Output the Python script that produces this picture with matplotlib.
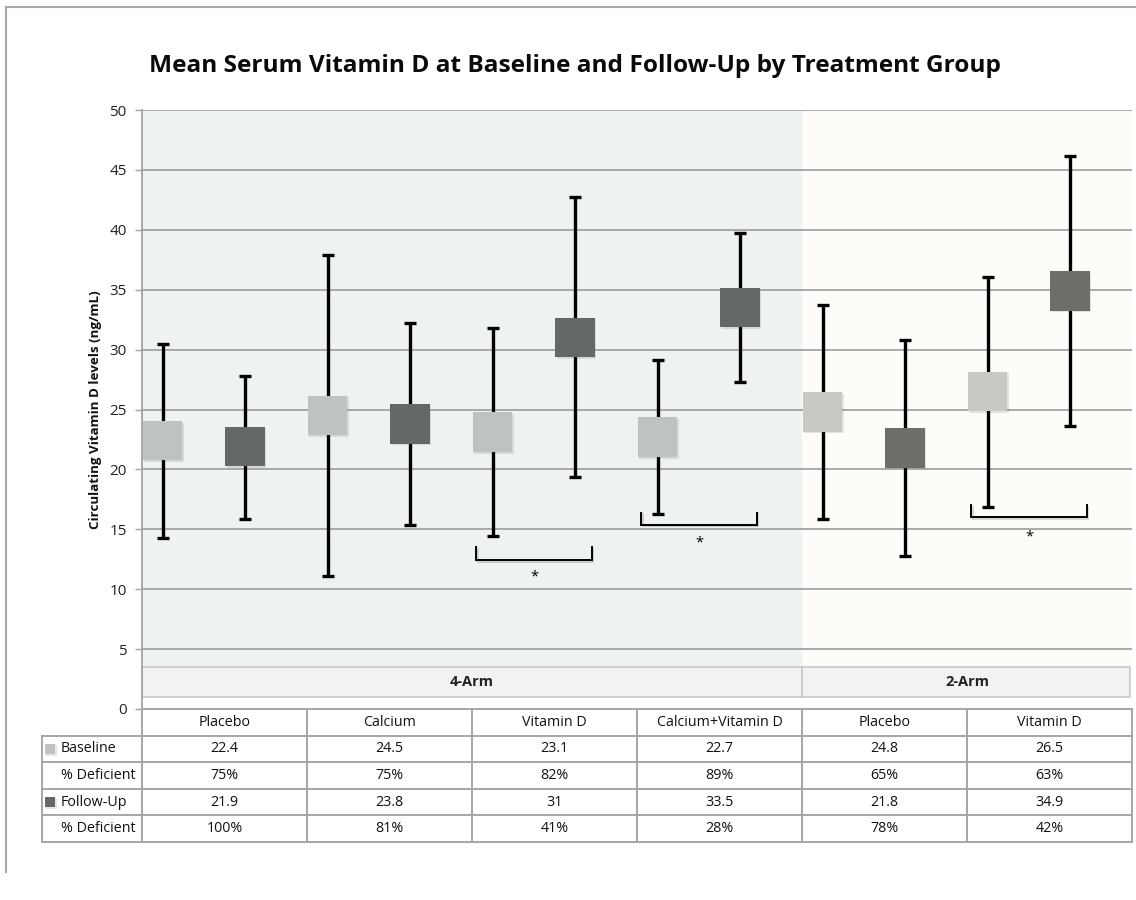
import matplotlib
matplotlib.use("Agg")
import matplotlib.pyplot as plt
import matplotlib.patheffects as pe
from matplotlib.patches import Rectangle
from matplotlib.lines import Line2D
import numpy as np

plt.rcParams['font.family'] = ['Open Sans', 'DejaVu Sans']

# ---------------- data ----------------
groups = ["Placebo", "Calcium", "Vitamin D", "Calcium+Vitamin D", "Placebo", "Vitamin D"]
arms = ["4-Arm", "2-Arm"]
arm_of_group = [0, 0, 0, 0, 1, 1]

baseline_mean = [22.4, 24.5, 23.1, 22.7, 24.8, 26.5]
baseline_low = [14.3, 11.1, 14.4, 16.3, 15.9, 16.9]
baseline_high = [30.5, 37.9, 31.8, 29.1, 33.7, 36.1]
baseline_def = ["75%", "75%", "82%", "89%", "65%", "63%"]

followup_mean = [21.9, 23.8, 31, 33.5, 21.8, 34.9]
followup_low = [15.9, 15.4, 19.4, 27.3, 12.8, 23.6]
followup_high = [27.8, 32.2, 42.7, 39.7, 30.8, 46.2]
followup_def = ["100%", "81%", "41%", "28%", "78%", "42%"]

# significance brackets (group index they belong to)
sig_groups = [2, 3, 5]
bracket_top = [13.5, 16.4, 17.0]
bracket_bottom = [12.4, 15.4, 16.0]
star_y = [11.0, 13.9, 14.4]

yticks = [0, 5, 10, 15, 20, 25, 30, 35, 40, 45, 50]
title = "Mean Serum Vitamin D at Baseline and Follow-Up by Treatment Group"
ylabel = "Circulating Vitamin D levels (ng/mL)"
row_labels = ["Baseline", "% Deficient", "Follow-Up", "% Deficient"]

# ---------------- style ----------------
W, H = 1136, 900
fig = plt.figure(figsize=(W / 100, H / 100), dpi=100)
fig.patch.set_facecolor("white")

ax_l, ax_r, ax_t, ax_b = 142, 1132, 110, 709
ax = fig.add_axes([ax_l / W, 1 - ax_b / H, (ax_r - ax_l) / W, (ax_b - ax_t) / H])
ax.set_xlim(-0.25, 11.75)
ax.set_ylim(0, 50)

grid_c = "#A3A3A3"
arm_bg = ["#EEF2F3", "#FDFCF8"]
base_c = ["#BEC2C3", "#C8C9C4"]
fu_c = ["#656869", "#6D6E69"]

ng = len(groups)
x_base = np.arange(ng) * 2
x_fu = np.arange(ng) * 2 + 1

# arm extents
arm_start = [-0.25, 7.75]
arm_end = [7.75, 11.75]
for a in range(2):
    ax.add_patch(Rectangle((arm_start[a], 3.5), arm_end[a] - arm_start[a], 50 - 3.5,
                           facecolor=arm_bg[a], edgecolor="none", zorder=0))
    ax.add_patch(Rectangle((arm_start[a], 1.0), arm_end[a] - arm_start[a] - (0.03 if a == 1 else 0), 2.5,
                           facecolor="#F2F2F2", edgecolor="#C8C8C8", lw=1.2, zorder=1))
    ax.text((arm_start[a] + arm_end[a]) / 2, 2.25, arms[a], ha="center", va="center",
            fontsize=10.5, fontweight="bold", color="#222222", zorder=2)

for y in yticks[1:]:
    ax.axhline(y, color=grid_c, lw=1.3, zorder=1)

# error bars
for xs, m, lo, hi in [(x_base, baseline_mean, baseline_low, baseline_high),
                      (x_fu, followup_mean, followup_low, followup_high)]:
    m = np.array(m); lo = np.array(lo); hi = np.array(hi)
    ax.errorbar(xs, m, yerr=[m - lo, hi - m], fmt="none", ecolor="black",
                elinewidth=2.4, capsize=4.5, capthick=2.4, zorder=3)

shadow = [pe.SimplePatchShadow(offset=(1.0, -1.2), alpha=0.15, shadow_rgbFace="#555555"), pe.Normal()]
for g in range(ng):
    a = arm_of_group[g]
    ax.plot([x_base[g]], [baseline_mean[g]], marker="s", ms=28.5, mfc=base_c[a], mec="none",
            ls="none", zorder=4, path_effects=shadow)
    ax.plot([x_fu[g]], [followup_mean[g]], marker="s", ms=28.5, mfc=fu_c[a], mec="none",
            ls="none", zorder=4, path_effects=shadow)

# significance brackets
for g, t, b, sy in zip(sig_groups, bracket_top, bracket_bottom, star_y):
    x0 = x_base[g] - 0.2
    x1 = x_fu[g] + 0.2
    ax.plot([x0, x0, x1, x1], [t, b, b, t], color="black", lw=1.4, zorder=3,
            solid_joinstyle="miter",
            path_effects=[pe.SimpleLineShadow(offset=(1, -1), alpha=0.15), pe.Normal()])
    ax.text((x0 + x1) / 2, sy, "*", ha="center", va="center", fontsize=10.5, color="black", zorder=3)

ax.set_yticks(yticks)
ax.set_yticklabels([str(v) for v in yticks], fontsize=11, color="#222222")
ax.set_xticks([])
ax.tick_params(axis="y", length=5, width=1, color=grid_c, pad=6)
for s in ["top", "right", "bottom"]:
    ax.spines[s].set_visible(False)
ax.spines["left"].set_color(grid_c)
ax.spines["left"].set_linewidth(1.3)

fig.text(575 / W, 1 - 66 / H, title, ha="center", va="center", fontsize=17.6,
         fontweight="bold", color="#0A0A0A")
fig.text(95 / W, 1 - 410 / H, ylabel, ha="center", va="center", rotation=90,
         fontsize=9.6, fontweight="bold", color="#111111")

# ---------------- table ----------------
t_l, t_r, t_t, t_b = 42, 1132, 709, 842
tab = fig.add_axes([t_l / W, 1 - t_b / H, (t_r - t_l) / W, (t_b - t_t) / H])
ppu = (ax_r - ax_l) / 12.0
left_x = -0.25 - (ax_l - t_l) / ppu
tab.set_xlim(left_x, 11.75)
tab.set_ylim(5, 0)
tab.axis("off")

lc = "#A6A6A6"
lw = 1.4
# horizontal lines
tab.plot([-0.25, 11.75], [0, 0], color=lc, lw=lw, clip_on=False)
for r in range(1, 6):
    tab.plot([left_x, 11.75], [r, r], color=lc, lw=lw, clip_on=False)
# vertical lines
tab.plot([left_x, left_x], [1, 5], color=lc, lw=lw, clip_on=False)
for c in range(ng + 1):
    xv = -0.25 + 2 * c
    tab.plot([xv, xv], [0, 5], color=lc, lw=lw, clip_on=False)

cell_fs = 10.3
for g in range(ng):
    cx = 2 * g + 0.75
    tab.text(cx, 0.5, groups[g], ha="center", va="center", fontsize=cell_fs, color="#111111")
    vals = [baseline_mean[g], baseline_def[g], followup_mean[g], followup_def[g]]
    for r, v in enumerate(vals):
        tab.text(cx, r + 1.5, str(v), ha="center", va="center", fontsize=cell_fs, color="#111111")

label_x = left_x + 19 / ppu
for r, lab in enumerate(row_labels):
    tab.text(label_x, r + 1.5, lab, ha="left", va="center", fontsize=cell_fs, color="#111111")

sq_x = left_x + 8 / ppu
tab.plot([sq_x], [1.5], marker="s", ms=7.5, mfc=base_c[0], mec="none", ls="none",
         path_effects=shadow, clip_on=False)
tab.plot([sq_x], [3.5], marker="s", ms=7.5, mfc=fu_c[0], mec="none", ls="none",
         path_effects=shadow, clip_on=False)

# outer frame
fig.add_artist(Line2D([6 / W, 6 / W], [1 - 7 / H, 1 - 872 / H], color="#A8A8A8", lw=1.5,
                      transform=fig.transFigure))
fig.add_artist(Line2D([6 / W, 1.0], [1 - 7 / H, 1 - 7 / H], color="#A8A8A8", lw=1.5,
                      transform=fig.transFigure))

fig.savefig("out.png", dpi=100, facecolor="white")
